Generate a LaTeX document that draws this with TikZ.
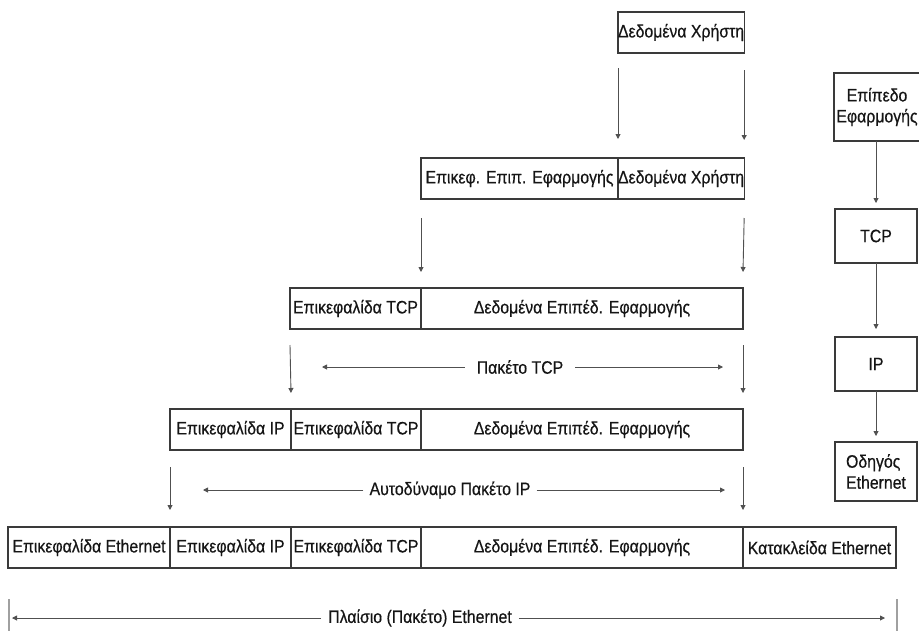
\documentclass[tikz,border=0pt]{standalone}
\usepackage{fontspec}
\setmainfont{Liberation Sans}[FakeStretch=0.88,FakeBold=0.5]
\usetikzlibrary{arrows.meta}
\definecolor{txt}{HTML}{151515}
\definecolor{boxc}{HTML}{3A3A3A}
\definecolor{arrc}{HTML}{505050}
\definecolor{barc}{HTML}{A0A0A0}
\begin{document}
\begin{tikzpicture}[x=1pt,y=-1pt,
  lbl/.style={font=\fontsize{18}{21}\selectfont, text=txt},
  cell/.style={lbl, draw=boxc, line width=1.3pt, rectangle, anchor=north west,
    inner sep=0pt, outer sep=0pt, minimum height=41pt},
  rbox/.style={lbl, draw=boxc, line width=1.3pt, rectangle, anchor=north west,
    inner sep=0pt, outer sep=0pt, minimum width=82pt},
  arr/.style={draw=arrc, line width=0.9pt, -{Stealth[length=5pt,width=5pt,inset=0pt]}},
  hlbl/.style={lbl, inner ysep=0pt},
  bar/.style={draw=barc, line width=2pt}
]
\useasboundingbox (0,0) rectangle (919,630);

% Row 1
\node[cell, minimum width=125pt] (u1) at (618,12) {Δεδομένα Χρήστη};
% Row 2
\node[cell, minimum width=197pt] (h2) at (421,158) {Επικεφ. Επιπ. Εφαρμογής};
\node[cell, minimum width=125pt] (d2) at (618,158) {Δεδομένα Χρήστη};
% Row 3
\node[cell, minimum width=131pt] (h3) at (290,288) {Επικεφαλίδα TCP};
\node[cell, minimum width=322pt] (d3) at (421,288) {Δεδομένα Επιπέδ. Εφαρμογής};
% Row 4
\node[cell, minimum width=121pt] (i4) at (170,409) {Επικεφαλίδα IP};
\node[cell, minimum width=130pt] (t4) at (291,409) {Επικεφαλίδα TCP};
\node[cell, minimum width=322pt] (d4) at (421,409) {Δεδομένα Επιπέδ. Εφαρμογής};
% Row 5
\node[cell, minimum width=162pt] (e5) at (8,527) {Επικεφαλίδα Ethernet};
\node[cell, minimum width=121pt] (i5) at (170,527) {Επικεφαλίδα IP};
\node[cell, minimum width=130pt] (t5) at (291,527) {Επικεφαλίδα TCP};
\node[cell, minimum width=322pt] (d5) at (421,527) {Δεδομένα Επιπέδ. Εφαρμογής};
\node[cell, minimum width=153pt] (k5) at (743,527) {Κατακλείδα Ethernet};

% Vertical arrows between rows
\draw[arr] ([yshift=-15pt]u1.south west) -- ([yshift=19pt]d2.north west);
\draw[arr] ([yshift=-17pt]u1.south east) -- ([yshift=18pt]d2.north east);
\draw[arr] ([yshift=-19pt]h2.south west) -- ([yshift=16pt]h3.north east);
\draw[arr] ([yshift=-19pt]d2.south east) -- ([yshift=16pt]d3.north east);
\draw[arr] ([yshift=-16pt]h3.south west) -- ([yshift=16pt]i4.north east);
\draw[arr] ([yshift=-16pt]d3.south east) -- ([yshift=16pt]d4.north east);
\draw[arr] ([yshift=-17pt]i4.south west) -- ([yshift=17pt]i5.north west);
\draw[arr] ([yshift=-17pt]d4.south east) -- ([yshift=17pt]d5.north east);

% TCP packet span
\coordinate (tcpL) at (322,367);
\coordinate (tcpR) at (723,367);
\node[hlbl, inner xsep=12pt] (tcpl) at (520,367) {Πακέτο TCP};
\draw[arr] (tcpl.west) -- (tcpL);
\draw[arr] (tcpl.east) -- (tcpR);

% IP datagram span
\coordinate (ipL) at (203,490);
\coordinate (ipR) at (725,490);
\node[hlbl, inner xsep=6pt] (ipl) at (450,490) {Αυτοδύναμο Πακέτο IP};
\draw[arr] (ipl.west) -- (ipL);
\draw[arr] (ipl.east) -- (ipR);

% Ethernet frame span
\coordinate (fL) at (12,618);
\coordinate (fR) at (885,618);
\node[hlbl, inner xsep=7pt] (frl) at (420,618) {Πλαίσιο (Πακέτο) Ethernet};
\draw[arr] (frl.west) -- (fL);
\draw[arr] (frl.east) -- (fR);
\coordinate (bL1) at (9,599);
\coordinate (bL2) at (9,632);
\coordinate (bR1) at (897,599);
\coordinate (bR2) at (897,632);
\draw[bar] (bL1) -- (bL2);
\draw[bar] (bR1) -- (bR2);

% Right column: protocol layers
\node[rbox, minimum width=95pt, minimum height=68pt] (app) at (834,73) {};
\node[lbl, align=center] (appt) at (877,107) {Επίπεδο\\Εφαρμογής};
\node[rbox, minimum height=54pt] (tcp) at (835,209) {TCP};
\node[rbox, minimum height=54pt] (ip) at (835,337) {IP};
\node[rbox, minimum height=59pt, align=left] (drv) at (835,442) {Οδηγός\\Ethernet};

\draw[arr] (tcp.north |- app.south) -- ([yshift=6pt]tcp.north);
\draw[arr] (tcp.south) -- ([yshift=8pt]ip.north);
\draw[arr] (ip.south) -- ([yshift=6pt]drv.north);
\end{tikzpicture}
\end{document}
